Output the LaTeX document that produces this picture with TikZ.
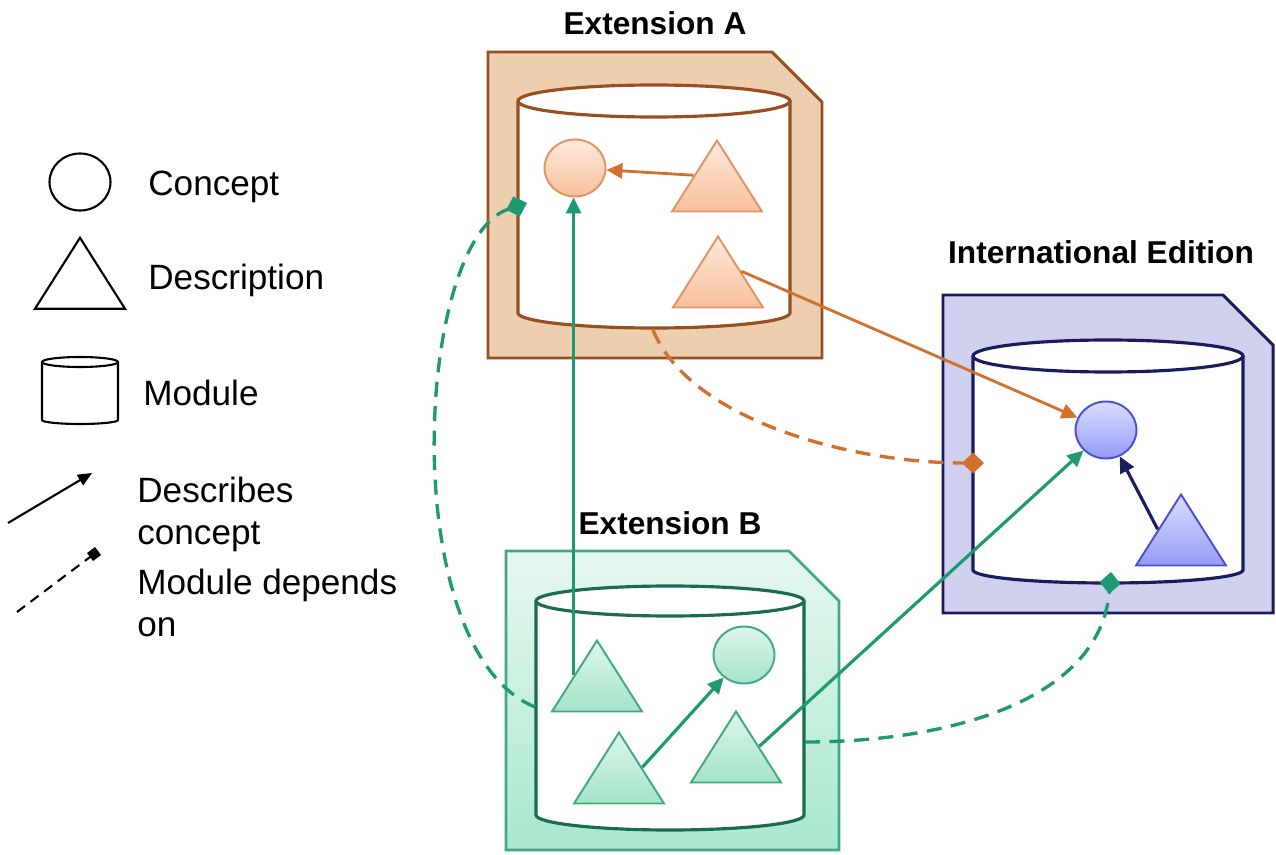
\documentclass[tikz,border=0pt]{standalone}
\usepackage{fontspec}
\setmainfont{Liberation Sans}
\usetikzlibrary{shapes.geometric,arrows.meta}

\definecolor{extAfill}{RGB}{237,207,175}
\definecolor{extAline}{RGB}{152,80,34}
\definecolor{extAtop}{RGB}{253,233,220}
\definecolor{extAbot}{RGB}{249,192,155}
\definecolor{extAedge}{RGB}{226,146,100}
\definecolor{orangearr}{RGB}{210,112,46}
\definecolor{intfill}{RGB}{207,209,238}
\definecolor{intline}{RGB}{27,28,94}
\definecolor{inttop}{RGB}{219,222,255}
\definecolor{intbot}{RGB}{150,155,245}
\definecolor{intedge}{RGB}{74,79,208}
\definecolor{extBtop}{RGB}{231,248,240}
\definecolor{extBbot}{RGB}{168,232,205}
\definecolor{extBline}{RGB}{64,168,131}
\definecolor{extBcyl}{RGB}{26,107,79}
\definecolor{greenarr}{RGB}{30,154,114}
\definecolor{extBshtop}{RGB}{220,246,234}
\definecolor{extBshbot}{RGB}{165,228,200}

% module cylinder: centre x, top y, bottom y, x radius, top y radius, bottom y radius, style
\newcommand*{\modcyl}[7]{%
	\filldraw[fill=white,#7] ({#1-#4},#2) -- ({#1-#4},#3)
		arc[start angle=180,end angle=360,x radius=#4*0.02cm,y radius=#6*0.02cm]
		-- ({#1+#4},#2);
	\filldraw[fill=white,#7] (#1,#2) ellipse[x radius=#4*0.02cm,y radius=#5*0.02cm];
}
% module box with cut corner: left, top, right, bottom, style
\newcommand*{\modbox}[5]{%
	\filldraw[#5] (#1,#2) -- ({#3-50},#2) -- (#3,{#2+50}) -- (#3,#4) -- (#1,#4) -- cycle;
}

\begin{document}
\begin{tikzpicture}
[
	x=0.02cm, y=-0.02cm,
	concept/.style={ellipse,draw,line width=1.1pt,inner sep=0pt,minimum width=1.22cm,minimum height=1.14cm},
	descr/.style={isosceles triangle,isosceles triangle stretches,shape border rotate=90,draw,line width=1.1pt,inner sep=0pt,minimum width=1.8cm,minimum height=1.42cm,anchor=apex},
	extA/.style={draw=extAedge,top color=extAtop,bottom color=extAbot},
	intl/.style={draw=intedge,top color=inttop,bottom color=intbot},
	extB/.style={draw=extBline,top color=extBshtop,bottom color=extBshbot},
	legend/.style={draw=black,fill=white,line width=1.2pt},
	describes/.style={line width=1.8pt,-{Triangle[length=0.32cm,width=0.3cm]}},
	depends/.style={line width=1.9pt,dash pattern=on 0.3cm off 0.19cm,-{Turned Square[length=0.44cm,width=0.42cm]}},
	modlabel/.style={font=\fontsize{18}{22}\selectfont\bfseries,anchor=base,inner sep=0pt},
	legtext/.style={font=\fontsize{20}{24}\selectfont,anchor=base west,inner sep=0pt,align=left}
]

	\useasboundingbox (0,0) rectangle (1276,855);

	% module boxes
	\modbox{488}{52}{822}{358}{fill=extAfill,draw=extAline,line width=1.7pt}
	\modbox{943}{295}{1273}{613}{fill=intfill,draw=intline,line width=1.7pt}
	\modbox{506}{551}{839}{850}{top color=extBtop,bottom color=extBbot,draw=extBline,line width=1.5pt}

	% cylinders
	\modcyl{654}{101}{313}{136}{16}{15}{draw=extAline,line width=1.8pt}
	\modcyl{1108}{356}{570}{135}{16}{13}{draw=intline,line width=1.8pt}
	\modcyl{670}{601}{815}{134}{15}{15}{draw=extBcyl,line width=1.8pt}

	\node[modlabel] (labA) at (655,35) {Extension A};
	\node[modlabel] (labI) at (1101,263) {International Edition};
	\node[modlabel] (labB) at (670,534) {Extension B};

	% concepts and descriptions
	\node[concept,extA] (cA) at (575,168) {};
	\node[descr,extA] (tA1) at (717,138) {};
	\node[descr,extA] (tA2) at (718,234) {};

	\node[concept,intl] (cIE) at (1106,430) {};
	\node[descr,intl] (tIE) at (1181,492) {};

	\node[concept,extB] (cB) at (744,655) {};
	\node[descr,extB] (tB1) at (597,638) {};
	\node[descr,extB] (tB2) at (619,730) {};
	\node[descr,extB] (tB3) at (736,709) {};

	% dependencies
	\coordinate (depB1) at (535,707);
	\coordinate (onA) at (527,203);
	\coordinate (depA) at (653,330);
	\coordinate (onI1) at (984,463);
	\coordinate (depB2) at (805,742);
	\coordinate (onI2) at (1111,572);

	\draw[depends,greenarr] (depB1) .. controls (395,650) and (415,240) .. (onA);
	\draw[depends,orangearr] (depA) .. controls (690,420) and (850,463) .. (onI1);
	\draw[depends,greenarr] (depB2) .. controls (950,742) and (1100,700) .. (onI2);

	% describes
	\draw[describes,orangearr,line width=1.6pt] (tA1.left side) -- (cA);
	\draw[describes,orangearr,line width=1.6pt] (tA2.right side) -- (cIE);
	\draw[describes,intline] (tIE.left side) -- (cIE);
	\draw[describes,greenarr] (tB1.left side) -- (tB1.left side |- cA.south);
	\draw[describes,greenarr] (tB2.right side) -- (cB);
	\draw[describes,greenarr] (tB3.right side) -- (cIE);

	% legend
	\node[concept,legend] (legC) at (80,182) {};
	\node[legtext] (legCtxt) at (148,195) {Concept};
	\node[descr,legend] (legD) at (80,235) {};
	\node[legtext] (legDtxt) at (148,290) {Description};
	\modcyl{80}{362}{420}{38}{5}{4}{draw=black,line width=1.2pt}
	\node[legtext] (legMtxt) at (143,405) {Module};

	\coordinate (legarrA) at (8,523);
	\coordinate (legarrB) at (92,473);
	\draw[line width=1.2pt,-{Triangle[length=0.28cm,width=0.24cm]}] (legarrA) -- (legarrB);
	\node[legtext,anchor=north west] (legDCtxt) at (137,477) {Describes\\concept};

	\coordinate (legdepA) at (17,612);
	\coordinate (legdepB) at (98,551);
	\draw[line width=1.2pt,dash pattern=on 0.2cm off 0.14cm,-{Square[length=0.2cm,width=0.2cm]}] (legdepA) -- (legdepB);
	\node[legtext,anchor=north west] (legMDtxt) at (137,569) {Module depends\\on};

\end{tikzpicture}
\end{document}
